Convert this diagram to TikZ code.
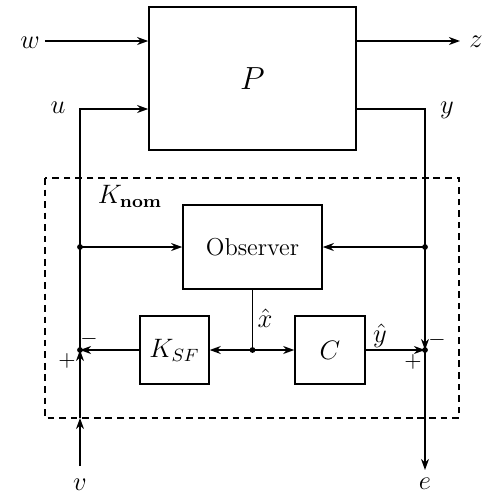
\documentclass[tikz,border=0pt]{standalone}
\usetikzlibrary{arrows.meta}
\begin{document}
\begin{tikzpicture}[x=0.45pt,y=-0.45pt,
  >={Stealth[length=5pt,width=3.6pt,inset=1.6pt]},
  line width=0.65pt,
  blk/.style={draw, inner sep=0pt, anchor=center},
  lbl/.style={inner sep=0pt, anchor=center},
  dot/.style={circle, fill, inner sep=0pt, minimum size=2.6pt}]
\useasboundingbox (0,0) rectangle (487,495);
% blocks
\node[blk, minimum width=93.2pt, minimum height=64.4pt] (P) at (252.5,78.5) {\Large $P$};
\node[blk, minimum width=62.6pt, minimum height=37.8pt] (Obs) at (252.5,247) {\fontsize{11}{13}\selectfont Observer};
\node[blk, minimum width=31pt, minimum height=30.6pt] (K) at (174.5,350) {\large $K_{SF}$};
\node[blk, minimum width=31.5pt, minimum height=30.6pt] (C) at (330,350) {\large $C$};
% coordinates
\coordinate (win) at (45,41);
\coordinate (zout) at (460,41);
\coordinate (ucorner) at (80,109);
\coordinate (ycorner) at (425,109);
\node[dot] (ldot) at (80,247) {};
\node[dot] (rdot) at (425,247) {};
\node[dot] (mj) at (252.5,350) {};
\node[dot] (lj) at (80,350) {};
\node[dot] (rj) at (425,350) {};
\coordinate (vin) at (80,466);
\coordinate (vb) at (80,418);
\coordinate (eout) at (425,470);
% dashed controller box
\draw[dashed, dash pattern=on 3pt off 2.2pt] (45,178) rectangle (459,418);
% connectors
\draw[->] (win) -- (P.west |- win);
\draw[->] (P.east |- zout) -- (zout);
\draw[->] (lj.center) -- (ucorner) -- (P.west |- ucorner);
\draw[->] (P.east |- ycorner) -- (ycorner) -- (rj.center);
\draw[->] (rj.center) -- (eout);
\draw[->] (ldot.center) -- (Obs.west);
\draw[->] (rdot.center) -- (Obs.east);
\draw (Obs.south) -- (mj.center);
\draw[->] (mj.center) -- (K.east);
\draw[->] (mj.center) -- (C.west);
\draw[->] (K.west) -- (lj.center);
\draw[->] (C.east) -- (rj.center);
\draw[->] (vin) -- (vb);
\draw[->] (vb) -- (lj.center);
% labels
\node[lbl] (lw) at (30,43) {\large $w$};
\node[lbl] (lz) at (476,42) {\large $z$};
\node[lbl] (lu) at (58,108) {\large $u$};
\node[lbl] (ly) at (447,110) {\large $y$};
\node[lbl] (lK) at (130,196) {\large $K_{\mathbf{nom}}$};
\node[lbl] (lxh) at (265,318) {\large $\hat{x}$};
\node[lbl] (lyh) at (380,336) {\large $\hat{y}$};
\node[lbl] (lv) at (80,485) {\large $v$};
\node[lbl] (le) at (425,484) {\large $e$};
\node[lbl] (s1) at (89,339) {$-$};
\node[lbl] (s2) at (67,361) {$+$};
\node[lbl] (s3) at (437,340) {$-$};
\node[lbl] (s4) at (413,362) {$+$};
\end{tikzpicture}
\end{document}
